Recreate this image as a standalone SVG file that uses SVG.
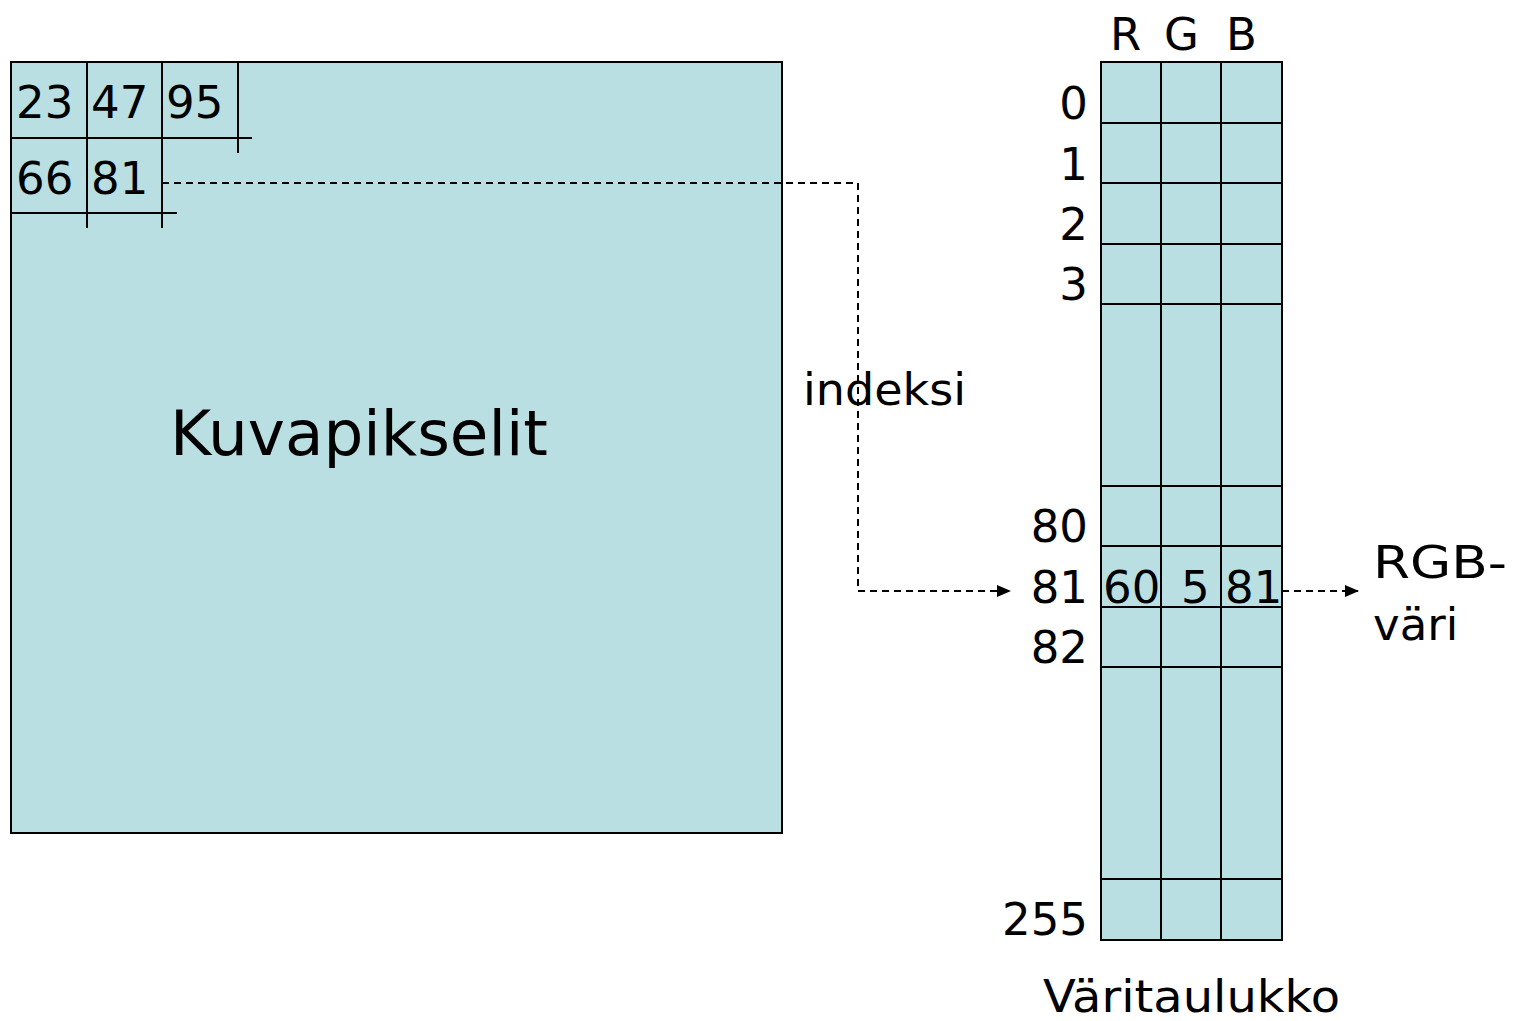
<svg xmlns="http://www.w3.org/2000/svg" width="1515" height="1021" viewBox="0 0 1515 1021">
  <style>
    .box { fill: #B9DFE2; stroke: #000; stroke-width: 2; }
    .ln { stroke: #000; stroke-width: 2; fill: none; }
    .dash { stroke: #000; stroke-width: 2; fill: none; stroke-dasharray: 7 5; }
    text { font-family: "DejaVu Sans", Verdana, sans-serif; fill: #000; }
    .t { font-size: 45px; }
    .r { text-anchor: end; }
  </style>
  <defs>
    <marker id="arr" markerWidth="14" markerHeight="12" refX="13" refY="6" orient="auto" markerUnits="userSpaceOnUse">
      <path d="M0,0 L14,6 L0,12 Z" fill="#000"/>
    </marker>
  </defs>
  <rect width="1515" height="1021" fill="#fff"/>

  <!-- image pixel array -->
  <g id="pixels">
    <rect class="box" x="11" y="62" width="771" height="771"/>
    <path class="ln" d="M11,138 H252 M11,213 H177 M87,62 V228 M162,62 V228 M238,62 V153"/>
    <text class="t" x="16" y="118">23</text>
    <text class="t" x="91" y="118">47</text>
    <text class="t" x="166" y="118">95</text>
    <text class="t" x="16" y="194">66</text>
    <text class="t" x="91" y="194">81</text>
    <text x="170" y="455" font-size="62" textLength="378" lengthAdjust="spacingAndGlyphs">Kuvapikselit</text>
  </g>

  <!-- colour lookup table -->
  <g id="palette">
    <rect class="box" x="1101" y="62" width="181" height="878"/>
    <path class="ln" d="M1161,62 V940 M1221,62 V940 M1101,123 H1282 M1101,183 H1282 M1101,244 H1282 M1101,304 H1282 M1101,486 H1282 M1101,546 H1282 M1101,607 H1282 M1101,667 H1282 M1101,879 H1282"/>
    <text class="t" x="1110" y="50">R</text>
    <text class="t" x="1164" y="50">G</text>
    <text class="t" x="1226" y="50">B</text>
    <text class="t r" x="1088" y="119">0</text>
    <text class="t r" x="1088" y="180">1</text>
    <text class="t r" x="1088" y="240">2</text>
    <text class="t r" x="1088" y="300">3</text>
    <text class="t r" x="1088" y="542">80</text>
    <text class="t r" x="1088" y="603">81</text>
    <text class="t r" x="1088" y="663">82</text>
    <text class="t r" x="1088" y="935">255</text>
    <text class="t" x="1103" y="603">60</text>
    <text class="t" x="1181" y="603">5</text>
    <text class="t" x="1225" y="603">81</text>
    <text x="1043" y="1012" font-size="45" textLength="297" lengthAdjust="spacingAndGlyphs">Väritaulukko</text>
  </g>

  <g id="rgb-label">
    <text class="t" x="1373" y="578" textLength="134" lengthAdjust="spacingAndGlyphs">RGB-</text>
    <text class="t" x="1373" y="640">väri</text>
  </g>

  <g id="index-label">
    <text class="t" x="803" y="405" textLength="163" lengthAdjust="spacingAndGlyphs">indeksi</text>
  </g>

  <!-- connectors -->
  <g id="connectors">
    <path class="dash" d="M162,183 H858 V591 H1010" marker-end="url(#arr)"/>
    <path class="dash" d="M1282,591 H1358" marker-end="url(#arr)"/>
  </g>
</svg>
